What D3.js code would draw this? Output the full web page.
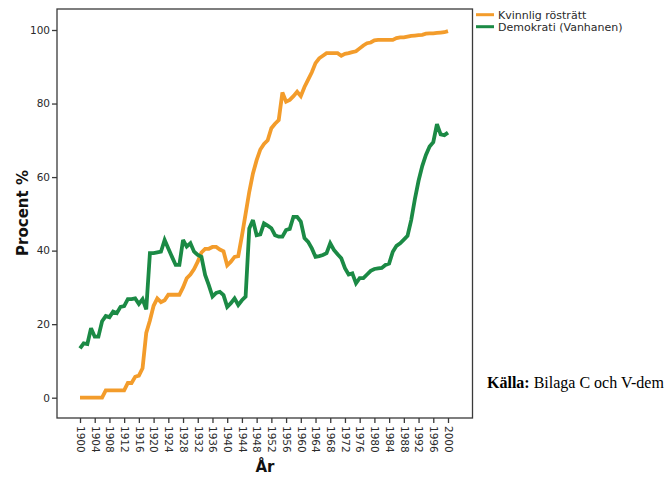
<!DOCTYPE html>
<html><head><meta charset="utf-8">
<script src="https://cdn.jsdelivr.net/npm/d3@7"></script>
<style>body{margin:0;background:#fff}svg{display:block}</style>
</head><body>
<script>
const startYear = 1900;
const kvinnlig = [
 0,0,0,0,0,0,0,2,2,2, 2,2,2,4,4,5.7,6,8,17.6,21,
 25,27,26,26.5,28,28,28,28,30,32.5, 33.5,35,37,39.5,40.5,40.5,41,41,40.3,39.8,
 36,37,38.3,38.5,44,50,56,61,64.6,67.5, 69,70,73.3,74.5,75.5,83,80.5,81,82,83.2,
 82,84.5,86.5,88.5,91,92.3,93,93.7,93.7,93.7, 93.7,93,93.5,93.7,94,94.2,95,95.8,96.4,96.6,
 97.2,97.3,97.3,97.3,97.3,97.3,97.8,98,98,98.2, 98.4,98.5,98.6,98.7,99,99.1,99.1,99.2,99.3,99.4,
 99.7];
const demokrati = [
 13.4,14.8,14.6,18.9,16.6,16.6,20.8,22.2,21.9,23.4, 23,24.7,24.9,26.8,26.8,27,25.5,26.8,24,39.3,
 39.3,39.5,39.7,42.9,40.6,38.3,36.1,36.1,42.9,41.1, 42,39.7,38.8,38.3,33.4,30.6,27.5,28.5,28.8,27.9,
 24.7,25.7,27,25.2,26.5,27.5,46,48.3,44.2,44.4, 47.4,46.8,46.1,44.2,43.8,43.8,45.6,45.9,49.2,49.2,
 47.9,43.4,42.4,40.6,38.3,38.5,38.8,39.3,42,40.2, 39,37.9,35.2,33.5,33.8,31.1,32.5,32.5,33.5,34.5,
 35,35.2,35.3,36.1,36.5,39.7,41.3,42,43,44, 48.3,54,59,63,66,68.3,69.5,74.4,71.6,71.4,
 72.1];
const seriesNames = ["Kvinnlig rösträtt", "Demokrati (Vanhanen)"];
const seriesColors = ["#F39C2B", "#1B8A45"];
const xTicks = d3.range(1900, 2001, 4);
const yTicks = [0, 20, 40, 60, 80, 100];

const W = 672, H = 482;
const svg = d3.select("body").append("svg").attr("width", W).attr("height", H);
const frame = {l: 57, r: 472.5, t: 9, b: 418};
const x = d3.scaleLinear().domain([1900, 2000]).range([80, 448]);
const y = d3.scaleLinear().domain([0, 100]).range([397.7, 30]);
const txt = "#2a2a2a";
const font = "'DejaVu Sans', sans-serif";

// frame
svg.append("rect").attr("x", frame.l).attr("y", frame.t)
  .attr("width", frame.r - frame.l).attr("height", frame.b - frame.t)
  .attr("fill", "none").attr("stroke", "#3a3a3a").attr("stroke-width", 1.3);

// y axis
const yAx = svg.append("g").attr("transform", `translate(${frame.l},0)`)
  .call(d3.axisLeft(y).tickValues(yTicks).tickSize(5).tickPadding(2));
yAx.select(".domain").remove();
yAx.selectAll("line").attr("stroke", "#3a3a3a").attr("stroke-width", 1.3);
yAx.selectAll("text").attr("fill", txt).style("font-family", font).style("font-size", "10.5px");

// x axis
const xAx = svg.append("g").attr("transform", `translate(0,${frame.b})`)
  .call(d3.axisBottom(x).tickValues(xTicks).tickFormat(d3.format("d")).tickSize(5));
xAx.select(".domain").remove();
xAx.selectAll("line").attr("stroke", "#3a3a3a").attr("stroke-width", 1.3);
xAx.selectAll("text").attr("fill", txt).style("font-family", font).style("font-size", "10.5px")
  .attr("transform", "rotate(90)").attr("x", 8).attr("y", 0).attr("dy", "0.35em")
  .style("text-anchor", "start");

// titles
svg.append("text").attr("x", 265).attr("y", 472).attr("text-anchor", "middle")
  .style("font-family", font).style("font-size", "15px").style("font-weight", "bold")
  .attr("fill", "#111").text("År");
svg.append("text").attr("transform", "translate(28,213) rotate(-90)").attr("text-anchor", "middle")
  .style("font-family", font).style("font-size", "15px").style("font-weight", "bold")
  .attr("fill", "#111").text("Procent %");

// lines
const line = d3.line().x((d, i) => x(startYear + i)).y(d => y(d));
[kvinnlig, demokrati].forEach((s, k) => {
  svg.append("path").datum(s).attr("d", line).attr("fill", "none")
    .attr("stroke", seriesColors[k]).attr("stroke-width", 3.8)
    .attr("stroke-linejoin", "miter").attr("stroke-miterlimit", 3);
});

// legend
seriesNames.forEach((n, k) => {
  const ly = 14.7 + k * 12;
  svg.append("line").attr("x1", 476).attr("x2", 494).attr("y1", ly).attr("y2", ly)
    .attr("stroke", seriesColors[k]).attr("stroke-width", 3);
  svg.append("text").attr("x", 498).attr("y", ly).attr("dy", "0.35em")
    .style("font-family", font).style("font-size", "11px").attr("fill", txt).text(n);
});

// source
const src = svg.append("text").attr("x", 487).attr("y", 388)
  .style("font-family", "'Liberation Serif', 'Times New Roman', serif").style("font-size", "16px").attr("fill", "#000");
src.append("tspan").style("font-weight", "bold").text("Källa:");
src.append("tspan").text(" Bilaga C och V-dem");
</script>
</body></html>
